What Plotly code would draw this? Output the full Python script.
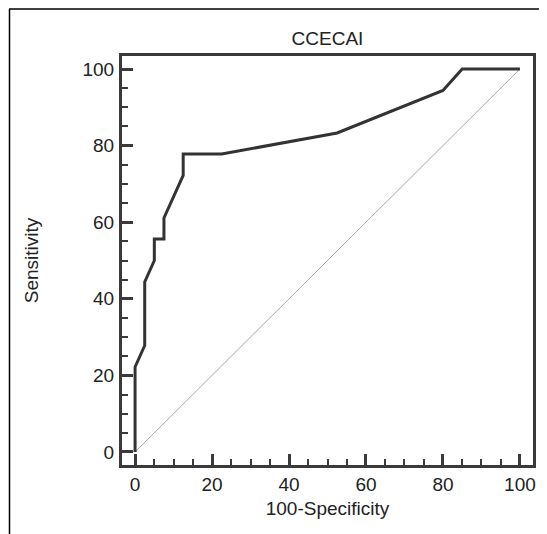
import plotly.graph_objects as go

# ROC curve points (100-Specificity, Sensitivity)
fpr = [0, 0, 2.5, 2.5, 5, 5, 7.5, 7.5, 12.5, 12.5, 22.5, 52.5, 80, 85, 100]
tpr = [0, 22.2, 27.8, 44.4, 50, 55.6, 55.6, 61.1, 72.2, 77.8, 77.8, 83.3, 94.4, 100, 100]
diag_x = [0, 100]
diag_y = [0, 100]
tick_vals = [0, 20, 40, 60, 80, 100]

# page body has an 8px margin, so the figure is 8px smaller on each axis
OFF = 8
W, H = 547 - OFF, 534 - OFF
L, R, T, B = 122 - OFF, 547 - 533, 56 - OFF, 534 - 465
pw, ph = W - L - R, H - T - B

fig = go.Figure()
fig.add_trace(go.Scatter(x=diag_x, y=diag_y, mode="lines",
                         line=dict(color="#808080", width=0.7), hoverinfo="skip"))
fig.add_trace(go.Scatter(x=fpr, y=tpr, mode="lines",
                         line=dict(color="#333333", width=3)))

FAM = "Liberation Sans, Arial, sans-serif"
font = dict(family=FAM, size=19, color="#222222")
axis_common = dict(
    range=[-3.4, 103.4], tickvals=tick_vals, ticks="inside", ticklen=11, tickwidth=2.5,
    tickcolor="#3a3a3a", showline=True, linecolor="#3a3a3a", linewidth=3, mirror=True,
    showgrid=False, zeroline=False, tickfont=font,
    minor=dict(ticks="inside", ticklen=6, tickwidth=1.5, tickcolor="#3a3a3a", dtick=5, showgrid=False),
)
fig.update_layout(
    width=W, height=H, margin=dict(l=L, r=R, t=T, b=B),
    paper_bgcolor="white", plot_bgcolor="white", showlegend=False,
    font=font,
    title=dict(text="CCECAI", x=(L + pw / 2) / W, xanchor="center", y=1 - (38 - OFF) / H, yanchor="middle",
               font=dict(family=FAM, size=19, color="#222222")),
    xaxis=dict(**axis_common, ticklabelstandoff=0, title=dict(text="100-Specificity", standoff=8, font=font)),
    yaxis=dict(**axis_common, ticklabelstandoff=1, title=dict(text="Sensitivity", standoff=39, font=font)),
)

# outer frame (top and left lines)
def px2paper_x(px):
    return (px - OFF - L) / pw

def py2paper_y(py):
    return (H - B - (py - OFF)) / ph

fig.add_shape(type="line", xref="paper", yref="paper",
              x0=px2paper_x(9.5), y0=py2paper_y(545), x1=px2paper_x(9.5), y1=py2paper_y(9),
              line=dict(color="black", width=1.5))
fig.add_shape(type="line", xref="paper", yref="paper",
              x0=px2paper_x(9), y0=py2paper_y(9), x1=px2paper_x(560), y1=py2paper_y(9),
              line=dict(color="black", width=1.5))

fig.write_html("out.html")
